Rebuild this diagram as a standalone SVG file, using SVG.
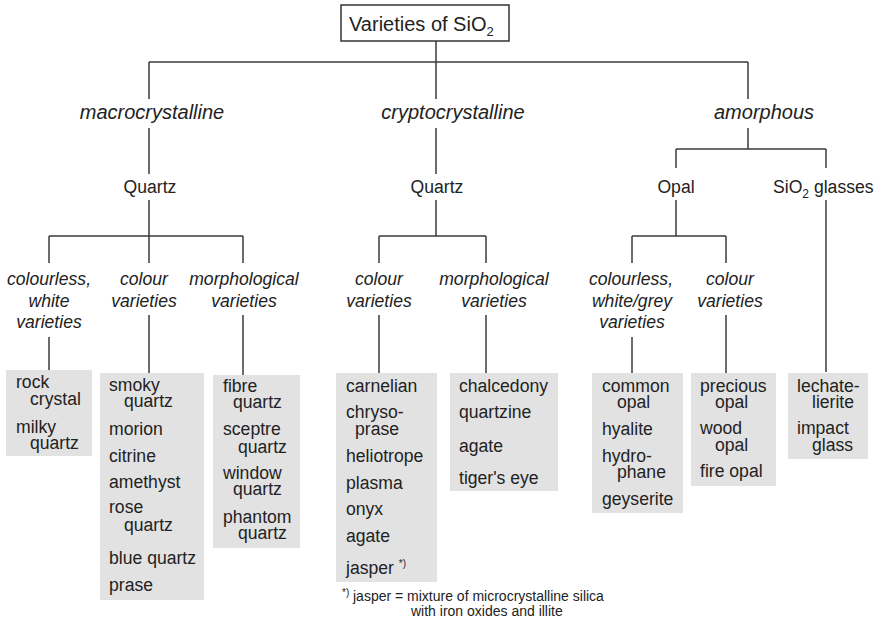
<svg xmlns="http://www.w3.org/2000/svg" width="877" height="624" viewBox="0 0 877 624">
<style>
text{font-family:"Liberation Sans",Arial,sans-serif;fill:#222}
.cat{font-size:20px;font-style:italic;text-anchor:middle}
.sub{font-size:17.6px;font-style:italic;text-anchor:middle}
.lbl{font-size:17.6px;text-anchor:middle}
.it{font-size:17.6px}
.box{fill:#e2e2e2;stroke:none}
.conn line{stroke:#3a3a3a;stroke-width:1.5}
.fn{font-size:14px}
.sup{font-size:10px}
</style>
<rect width="877" height="624" fill="#fff"/>
<g id="connectors" class="conn">
<line x1="436" y1="41" x2="436" y2="62"/>
<line x1="149" y1="62" x2="748" y2="62"/>
<line x1="149" y1="62" x2="149" y2="99"/>
<line x1="436" y1="62" x2="436" y2="99"/>
<line x1="748" y1="62" x2="748" y2="99"/>
<line x1="149" y1="128" x2="149" y2="174"/>
<line x1="436" y1="128" x2="436" y2="174"/>
<line x1="748" y1="128" x2="748" y2="149"/>
<line x1="676" y1="149" x2="826" y2="149"/>
<line x1="676" y1="149" x2="676" y2="168"/>
<line x1="826" y1="149" x2="826" y2="168"/>
<line x1="149" y1="200" x2="149" y2="236"/>
<line x1="49" y1="236" x2="243" y2="236"/>
<line x1="49" y1="236" x2="49" y2="263"/>
<line x1="149" y1="236" x2="149" y2="263"/>
<line x1="243" y1="236" x2="243" y2="263"/>
<line x1="436" y1="200" x2="436" y2="236"/>
<line x1="379" y1="236" x2="486" y2="236"/>
<line x1="379" y1="236" x2="379" y2="263"/>
<line x1="486" y1="236" x2="486" y2="263"/>
<line x1="676" y1="200" x2="676" y2="236"/>
<line x1="632" y1="236" x2="726" y2="236"/>
<line x1="632" y1="236" x2="632" y2="263"/>
<line x1="726" y1="236" x2="726" y2="263"/>
<line x1="826" y1="200" x2="826" y2="372"/>
<line x1="49" y1="337" x2="49" y2="370"/>
<line x1="149" y1="315" x2="149" y2="373"/>
<line x1="243" y1="315" x2="243" y2="375"/>
<line x1="379" y1="315" x2="379" y2="373"/>
<line x1="486" y1="315" x2="486" y2="373"/>
<line x1="632" y1="337" x2="632" y2="373"/>
<line x1="726" y1="315" x2="726" y2="373"/>
</g>
<g id="root">
<rect x="341" y="5" width="168" height="36" fill="#fff" stroke="#333" stroke-width="1.5"/>
<text x="349" y="31" font-size="20">Varieties of SiO<tspan font-size="13" dy="5">2</tspan></text>
</g>
<g id="macrocrystalline"><text class="cat" x="152" y="119">macrocrystalline</text></g>
<g id="cryptocrystalline"><text class="cat" x="453" y="119">cryptocrystalline</text></g>
<g id="amorphous"><text class="cat" x="764" y="119">amorphous</text></g>
<g id="quartz-macro"><text class="lbl" x="150" y="193">Quartz</text></g>
<g id="quartz-crypto"><text class="lbl" x="437" y="193">Quartz</text></g>
<g id="opal"><text class="lbl" x="676" y="193">Opal</text></g>
<g id="sio2-glasses"><text class="it" x="773" y="193">SiO<tspan font-size="12" dy="5">2</tspan><tspan dy="-5"> glasses</tspan></text></g>
<g id="macro-colourless"><text class="sub" x="49" y="285">colourless,</text><text class="sub" x="49" y="307">white</text><text class="sub" x="49" y="328">varieties</text></g>
<g id="macro-colour"><text class="sub" x="144" y="285">colour</text><text class="sub" x="144" y="307">varieties</text></g>
<g id="macro-morph"><text class="sub" x="244" y="285">morphological</text><text class="sub" x="244" y="307">varieties</text></g>
<g id="crypto-colour"><text class="sub" x="379" y="285">colour</text><text class="sub" x="379" y="307">varieties</text></g>
<g id="crypto-morph"><text class="sub" x="494" y="285">morphological</text><text class="sub" x="494" y="307">varieties</text></g>
<g id="opal-colourless"><text class="sub" x="631" y="285">colourless,</text><text class="sub" x="632" y="307">white/grey</text><text class="sub" x="632" y="328">varieties</text></g>
<g id="opal-colour"><text class="sub" x="730" y="285">colour</text><text class="sub" x="730" y="307">varieties</text></g>
<g id="box-rock">
<rect class="box" x="6" y="370" width="86" height="86"/>
<text class="it" x="16" y="388">rock</text><text class="it" x="30" y="405">crystal</text>
<text class="it" x="16" y="433">milky</text><text class="it" x="30" y="449">quartz</text>
</g>
<g id="box-smoky">
<rect class="box" x="100" y="373" width="104" height="227"/>
<text class="it" x="109" y="391">smoky</text><text class="it" x="124" y="407">quartz</text>
<text class="it" x="109" y="435">morion</text>
<text class="it" x="109" y="462">citrine</text>
<text class="it" x="109" y="488">amethyst</text>
<text class="it" x="109" y="513">rose</text><text class="it" x="124" y="531">quartz</text>
<text class="it" x="109" y="564">blue quartz</text>
<text class="it" x="109" y="591">prase</text>
</g>
<g id="box-fibre">
<rect class="box" x="213" y="375" width="87" height="173"/>
<text class="it" x="223" y="392">fibre</text><text class="it" x="233" y="408">quartz</text>
<text class="it" x="223" y="435">sceptre</text><text class="it" x="238" y="453">quartz</text>
<text class="it" x="223" y="479">window</text><text class="it" x="233" y="495">quartz</text>
<text class="it" x="223" y="523">phantom</text><text class="it" x="238" y="539">quartz</text>
</g>
<g id="box-carnelian">
<rect class="box" x="336" y="373" width="101" height="209"/>
<text class="it" x="346" y="392">carnelian</text>
<text class="it" x="346" y="418">chryso-</text><text class="it" x="355" y="435">prase</text>
<text class="it" x="346" y="462">heliotrope</text>
<text class="it" x="346" y="489">plasma</text>
<text class="it" x="346" y="515">onyx</text>
<text class="it" x="346" y="542">agate</text>
<text class="it" x="346" y="574">jasper <tspan class="sup" dy="-7">*)</tspan></text>
</g>
<g id="box-chalcedony">
<rect class="box" x="450" y="373" width="108" height="118"/>
<text class="it" x="459" y="392">chalcedony</text>
<text class="it" x="459" y="418">quartzine</text>
<text class="it" x="459" y="452">agate</text>
<text class="it" x="459" y="484">tiger's eye</text>
</g>
<g id="box-common">
<rect class="box" x="592" y="373" width="91" height="140"/>
<text class="it" x="602" y="392">common</text><text class="it" x="617" y="408">opal</text>
<text class="it" x="602" y="435">hyalite</text>
<text class="it" x="602" y="462">hydro-</text><text class="it" x="617" y="478">phane</text>
<text class="it" x="602" y="505">geyserite</text>
</g>
<g id="box-precious">
<rect class="box" x="691" y="373" width="85" height="113"/>
<text class="it" x="700" y="392">precious</text><text class="it" x="715" y="408">opal</text>
<text class="it" x="700" y="434">wood</text><text class="it" x="715" y="451">opal</text>
<text class="it" x="700" y="477">fire opal</text>
</g>
<g id="box-lechate">
<rect class="box" x="788" y="373" width="80" height="86"/>
<text class="it" x="797" y="392">lechate-</text><text class="it" x="812" y="408">lierite</text>
<text class="it" x="797" y="434">impact</text><text class="it" x="812" y="451">glass</text>
</g>
<g id="footnote">
<text class="fn" x="342" y="601"><tspan class="sup" dy="-5">*)</tspan><tspan x="353" dy="5">jasper = mixture of microcrystalline silica</tspan></text>
<text class="fn" x="411" y="616">with iron oxides and illite</text>
</g>
</svg>
